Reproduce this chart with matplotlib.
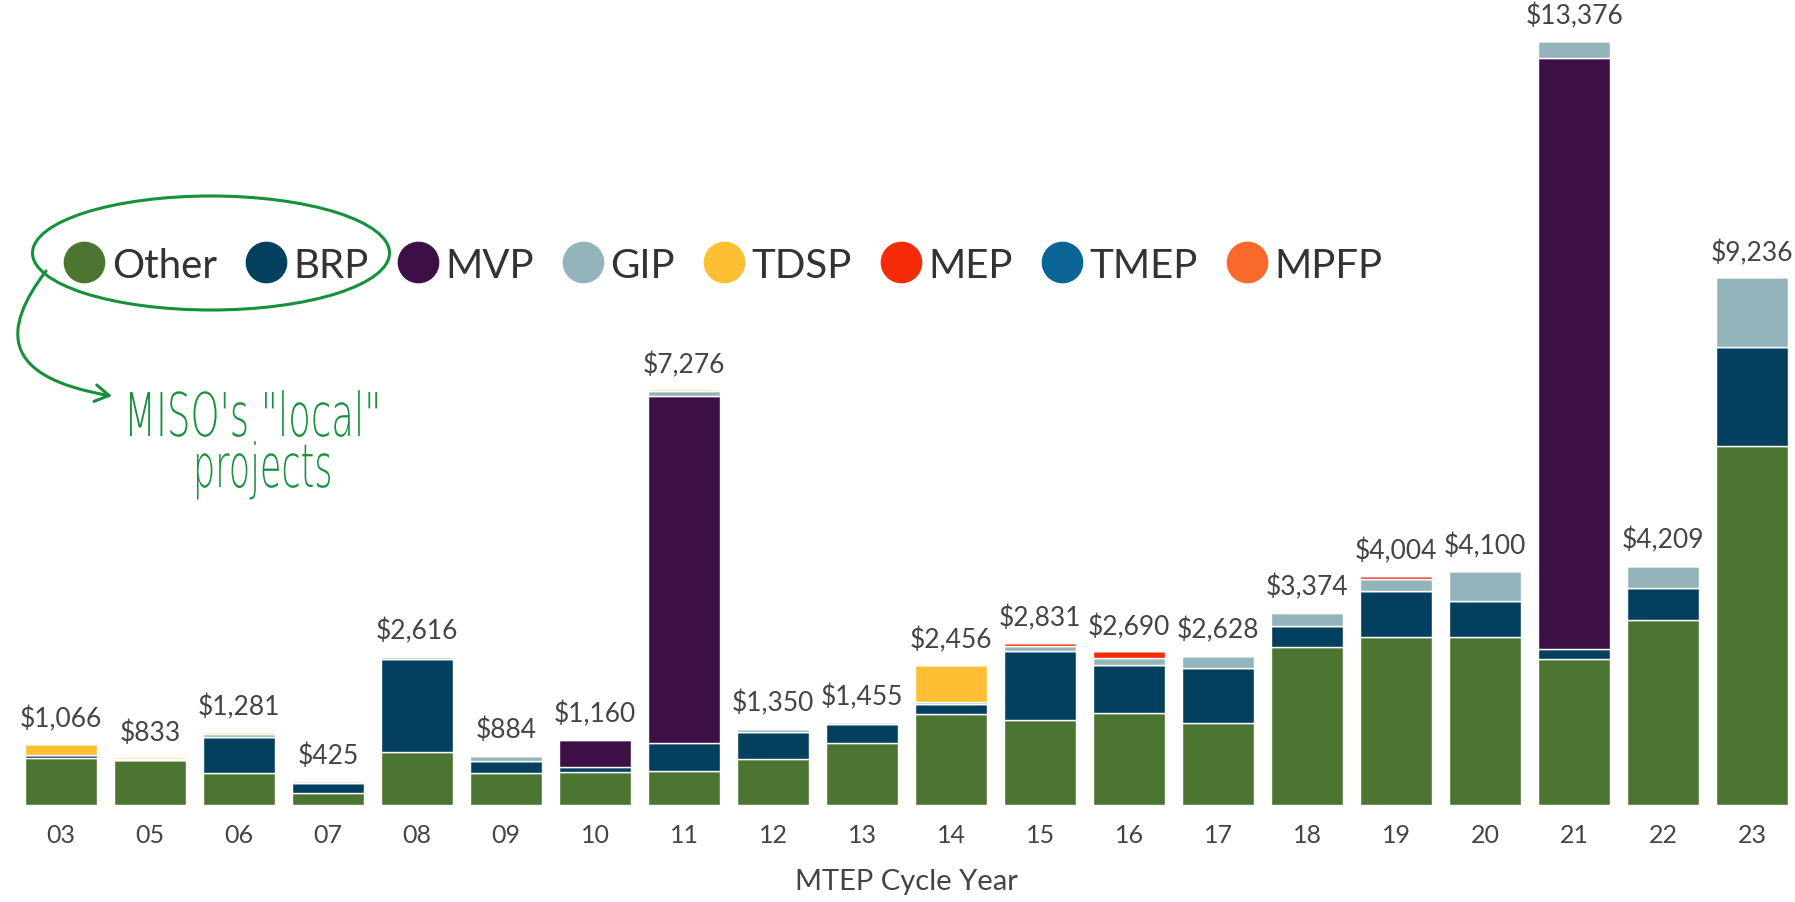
import numpy as np
import matplotlib
matplotlib.use("Agg")
import matplotlib.pyplot as plt
from matplotlib.lines import Line2D
from matplotlib.patches import Ellipse, FancyArrowPatch, PathPatch
from matplotlib.path import Path
from matplotlib.textpath import TextPath
from matplotlib.font_manager import FontProperties
from matplotlib.transforms import Affine2D

plt.rcParams['font.family'] = ['Lato', 'DejaVu Sans']

# MTEP approved investment by cycle year ($M), stacked by project type
years = ['03', '05', '06', '07', '08', '09', '10', '11', '12', '13',
         '14', '15', '16', '17', '18', '19', '20', '21', '22', '23']

other = [830, 790, 560, 210, 925, 555, 580, 600, 800, 1090,
         1600, 1490, 1610, 1440, 2770, 2940, 2940, 2560, 3240, 6290]
brp = [40, 5, 630, 175, 1630, 220, 80, 480, 475, 335,
       160, 1200, 835, 955, 370, 800, 640, 170, 560, 1720]
mvp = [0, 0, 0, 0, 0, 0, 485, 6085, 0, 0,
       0, 0, 0, 0, 0, 0, 0, 10340, 0, 0]
gip = [0, 18, 60, 30, 35, 85, 15, 75, 50, 30,
       35, 85, 125, 205, 214, 214, 520, 306, 389, 1226]
tdsp = [196, 20, 31, 10, 26, 0, 0, 36, 0, 0,
        661, 0, 0, 0, 20, 0, 0, 0, 0, 0]
mep = [0, 0, 0, 0, 0, 24, 0, 0, 25, 0,
       0, 56, 120, 0, 0, 50, 0, 0, 0, 0]
tmep = [0, 0, 0, 0, 0, 0, 0, 0, 0, 0,
        0, 0, 0, 28, 0, 0, 0, 0, 0, 0]
mpfp = [0, 0, 0, 0, 0, 0, 0, 0, 0, 0,
        0, 0, 0, 0, 0, 0, 0, 0, 20, 0]

series = [('Other', other, '#4d7532'),
          ('BRP', brp, '#033f5f'),
          ('MVP', mvp, '#3d0f47'),
          ('GIP', gip, '#94b4bb'),
          ('TDSP', tdsp, '#fdbf34'),
          ('MEP', mep, '#f52a09'),
          ('TMEP', tmep, '#0a6496'),
          ('MPFP', mpfp, '#f8692b')]

W, H = 1795, 903
fig = plt.figure(figsize=(W / 100, H / 100), dpi=100)
ax = fig.add_axes([16.7 / W, 97 / H, 1780 / W, 806 / H])

x = np.arange(len(years))
bottom = np.zeros(len(years))
for name, vals, col in series:
    vals = np.array(vals, dtype=float)
    ax.bar(x, vals, 0.81, bottom=bottom, color=col, edgecolor='white', linewidth=1.0)
    bottom += vals

for xi, tot in zip(x, bottom):
    ax.annotate(f"${int(tot):,}", (xi, tot), xytext=(0, 9), textcoords='offset points',
                ha='center', va='bottom', fontsize=19, color='#444444')

ax.set_xlim(-0.5, len(years) - 0.5)
ax.set_ylim(0, 14111)
ax.set_xticks(x)
ax.set_xticklabels(years, fontsize=18, color='#444444')
ax.tick_params(axis='x', length=0, pad=13)
ax.set_yticks([])
for s in ax.spines.values():
    s.set_visible(False)
ax.set_xlabel('MTEP Cycle Year', fontsize=21, color='#444444', labelpad=16)

handles = [Line2D([], [], marker='o', linestyle='', markersize=29, color=col)
           for _, _, col in series]
fig.legend(handles, [s[0] for s in series], loc='center left',
           bbox_to_anchor=(44 / W, 1 - 266 / H), ncol=8, frameon=False,
           fontsize=29, handlelength=1.0, handletextpad=0.18, columnspacing=0.72,
           borderpad=0, labelcolor='#333333')

# hand-drawn callout
green = '#17903c'
ell = Ellipse((211 / W, 1 - 254 / H), 357 / W, 114 / H, transform=fig.transFigure,
              fill=False, edgecolor=green, linewidth=2.2)
fig.add_artist(ell)

pts = [(46, 272), (2, 330), (0, 378), (112, 397)]
verts = [(px / W, 1 - py / H) for px, py in pts]
arrow_path = Path(verts, [Path.MOVETO, Path.CURVE4, Path.CURVE4, Path.CURVE4])
arr = FancyArrowPatch(path=arrow_path, transform=fig.transFigure,
                      arrowstyle='->,head_length=10,head_width=6',
                      color=green, linewidth=2.2)
fig.add_artist(arr)


def hand_text(s, left, right, baseline, cap):
    # squeeze a normal font into a tall narrow "handwritten" look
    tp = TextPath((0, 0), s, size=100, prop=FontProperties(family='DejaVu Sans', weight='light'))
    ext = tp.get_extents()
    sy = cap / 73.0
    sx = (right - left) / ext.width
    tr = Affine2D().translate(-ext.x0, 0).scale(sx, sy).translate(left, H - baseline)
    fig.add_artist(PathPatch(tp, transform=tr, facecolor=green, edgecolor='none'))


hand_text('MISO\'s "local"', 130, 377, 437, 44)
hand_text('projects', 197, 330, 488, 44)

fig.savefig('out.png', dpi=100)
